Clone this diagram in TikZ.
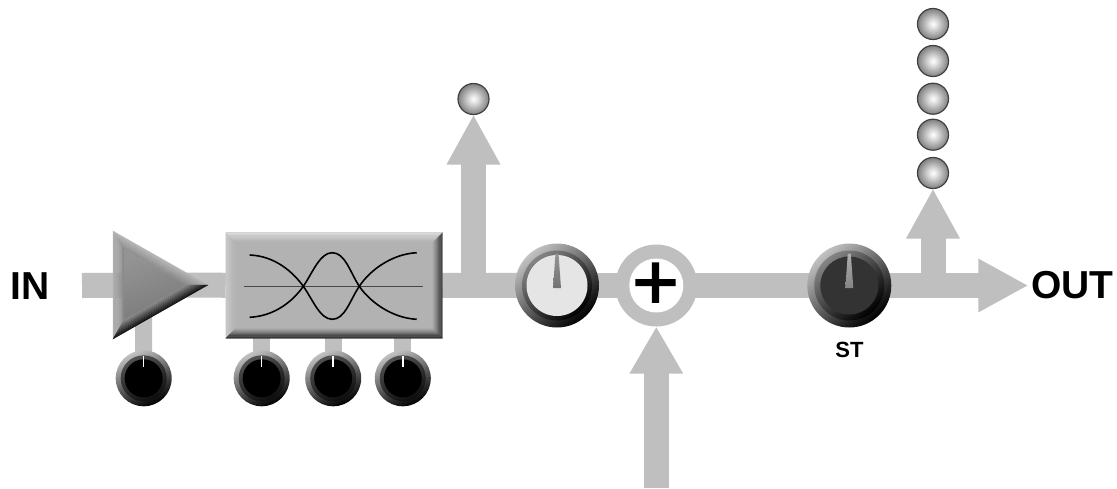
\documentclass[tikz,border=0pt]{standalone}
\usepackage{fontspec}
\setmainfont{Liberation Sans}
\newfontfamily\plusfont[FakeBold=1.6]{Liberation Sans}
\usetikzlibrary{arrows.meta,calc,backgrounds}
\definecolor{sig}{HTML}{BFBFBF}
\tikzset{
  x=1pt,y=-1pt,
  sigline/.style={draw=sig,line width=25pt},
  stemline/.style={draw=sig,line width=17pt},
  sigarrow/.style={sigline,-{Triangle[width=50pt,length=#1]}},
  round node/.style={circle,inner sep=0pt,outer sep=0pt},
  bigouter/.style={round node,top color=black!24,middle color=black!84,bottom color=black,shading=axis,shading angle=40},
  bigring/.style={round node,top color=black!48,middle color=black!84,bottom color=black,shading=axis,shading angle=40},
  smallouter/.style={round node,top color=black!24,middle color=black!62,bottom color=black!100,shading=axis,shading angle=25},
  smallring/.style={round node,top color=black!68,middle color=black!82,bottom color=black!95,shading=axis,shading angle=25},
  knobdisc/.style={round node,fill=#1},
  led/.style={round node,minimum size=31pt,draw=black!75,line width=1.2pt,shading=ledball},
  lab/.style={inner sep=0pt,outer sep=0pt,font=\bfseries\fontsize{39}{39}\selectfont},
}
\pgfdeclareradialshading{ledball}{\pgfpoint{0bp}{0bp}}{color(0bp)=(white); color(7bp)=(black!13); color(25bp)=(black!50); color(100bp)=(black!50)}
% name x y outer ring disc discColour outerStyle ringStyle
\newcommand{\knobat}[9]{%
  \node[#8,minimum size=#4pt] (#1) at (#2,#3) {};
  \node[#9,minimum size=#5pt] (#1-ring) at (#1.center) {};
  \node[knobdisc=#7,minimum size=#6pt] (#1-disc) at (#1.center) {};
}
% bevel strip between edge A-B and inset edge Ai-Bi; #5,#6 = black percent outer, inner
\newcommand{\bevel}[6]{%
  \foreach \i in {0,...,11}{
    \pgfmathsetmacro{\ta}{\i/12}
    \pgfmathsetmacro{\tb}{(\i+1)/12}
    \pgfmathsetmacro{\mixp}{#5+(#6-#5)*(\i+0.5)/12}
    \path[fill=black!\mixp,draw=black!\mixp,line width=0.2pt]
      ($(#1)!\ta!(#3)$) -- ($(#2)!\ta!(#4)$) -- ($(#2)!\tb!(#4)$) -- ($(#1)!\tb!(#3)$) -- cycle;
  }
}
\newcommand{\needle}[3]{\shade[top color=#2,bottom color=#3]
  ($(#1.center)+(-1.5,-32)$) -- ($(#1.center)+(1.5,-32)$) -- ($(#1.center)+(4,2.7)$) -- ($(#1.center)+(-4,2.7)$) -- cycle;}
\newcommand{\tick}[1]{\draw[white,line width=1.5pt] ($(#1.center)+(0,-22.5)$) -- ($(#1.center)+(0,-11)$);}
\begin{document}
\begin{tikzpicture}
\useasboundingbox (0,0) rectangle (1117,488);

% --- amplifier triangle
\coordinate (ampA) at (113,231);
\coordinate (ampB) at (113,339);
\coordinate (ampC) at (208,285);
\coordinate (ampAi) at (124,249.9);
\coordinate (ampBi) at (124,320.1);
\coordinate (ampCi) at (185.8,285);
\coordinate (amp) at (143.5,300);
\bevel{ampA}{ampB}{ampAi}{ampBi}{30}{46}
\bevel{ampA}{ampC}{ampAi}{ampCi}{28}{46}
\bevel{ampB}{ampC}{ampBi}{ampCi}{96}{46}
\shade[top color=black!42,bottom color=black!52,shading angle=20] (ampAi) -- (ampCi) -- (ampBi) -- cycle;

% --- equaliser box
\node[rectangle,inner sep=0pt,outer sep=0pt,fill=black!30,minimum width=216.5pt,minimum height=106pt] (eq) at (334,285.3) {};
\coordinate (eqNW) at (eq.north west); \coordinate (eqNE) at (eq.north east);
\coordinate (eqSW) at (eq.south west); \coordinate (eqSE) at (eq.south east);
\coordinate (eqNWi) at ($(eq.north west)+(10,10)$); \coordinate (eqNEi) at ($(eq.north east)+(-10,10)$);
\coordinate (eqSWi) at ($(eq.south west)+(10,-10)$); \coordinate (eqSEi) at ($(eq.south east)+(-10,-10)$);
\bevel{eqNW}{eqSW}{eqNWi}{eqSWi}{20}{30}
\bevel{eqNE}{eqSE}{eqNEi}{eqSEi}{80}{30}
\bevel{eqNW}{eqNE}{eqNWi}{eqNEi}{12}{30}
\bevel{eqSW}{eqSE}{eqSWi}{eqSEi}{88}{30}
\draw[black!72,line width=0.8pt] (243.7,286.3) -- (422.7,286.3);
\draw[black,line width=1.6pt] (249.7,255) .. controls (275,256) and (293,272) .. (303.3,286.3)
  .. controls (313,300) and (320,319.3) .. (332.3,319.3)
  .. controls (345,319.3) and (350,300) .. (359.3,286.3)
  .. controls (370,270) and (392,254) .. (416.7,252.7);
\draw[black,line width=1.6pt] (249.7,317.3) .. controls (275,316) and (293,301) .. (303.3,286.3)
  .. controls (313,272) and (320,252.7) .. (332.3,252.7)
  .. controls (345,252.7) and (350,272) .. (359.3,286.3)
  .. controls (370,302) and (392,318) .. (416.7,319.3);

% --- small knobs
\knobat{ka}{143.7}{378.3}{56}{46}{38}{black}{smallouter}{smallring}
\knobat{kb}{261.7}{378.3}{56}{46}{38}{black}{smallouter}{smallring}
\knobat{kc}{333.2}{378.3}{56}{46}{38}{black}{smallouter}{smallring}
\knobat{kd}{402.8}{378.3}{56}{46}{38}{black}{smallouter}{smallring}
\tick{ka}\tick{kb}\tick{kc}\tick{kd}

% --- big knobs
\knobat{kl}{557}{285.5}{84}{70}{61}{black!10}{bigouter}{bigring}
\needle{kl}{black!42}{black!55}
\knobat{kr}{849.3}{285.5}{84}{70}{58}{black!80}{bigouter}{bigring}
\needle{kr}{black!32}{black!48}

% --- summing junction
\node[round node,fill=sig,minimum size=82pt] (sum) at (656.3,285.5) {};
\node[round node,fill=white,minimum size=54pt] (sumhole) at (sum.center) {};
\node[inner sep=0pt,font=\plusfont\fontsize{80}{80}\selectfont] (plus) at ($(sum.center)+(-0.8,0.6)$) {+};

% --- LEDs
\node[led] (ledA) at (473.5,99) {};
\node[led] (ledB) at (933,173) {};
\node[led] (ledC) at (933,134.7) {};
\node[led] (ledD) at (933,98.7) {};
\node[led] (ledE) at (933,61) {};
\node[led] (ledF) at (933,24) {};

% --- labels
\node[lab] (in) at (30,286) {IN};
\node[lab,outer sep=3pt] (out) at (1072.5,285.5) {OUT};
\node[inner sep=0pt,font=\bfseries\fontsize{22}{22}\selectfont] (st) at (849.5,349.5) {ST};

% --- free ends of connectors
\coordinate (instart) at (82,285.5);
\coordinate (tapA) at (473.5,285.5);
\coordinate (tapB) at (933,285.5);
\coordinate (sumin) at (656.3,488);

\begin{pgfonlayer}{background}
  \draw[sigline,line cap=butt] (instart) -- (ampC);
  \draw[sigline] (ampC) -- (eq.west);
  \draw[sigline] (eq.east) -- (kl.center);
  \draw[sigline] (kl.center) -- (sum.center);
  \draw[sigline] (sum.center) -- (kr.center);
  \draw[sigarrow=50pt] (kr.center) -- (out);
  \draw[sigarrow=50pt] (tapA) -- (ledA);
  \draw[sigarrow=50pt] (tapB) -- (ledB);
  \draw[sigarrow=47pt] (sumin) -- (sum);
  \draw[stemline] (amp) -- (ka.center);
  \draw[stemline] (kb.center) -- (kb.center |- eq.south);
  \draw[stemline] (kc.center) -- (kc.center |- eq.south);
  \draw[stemline] (kd.center) -- (kd.center |- eq.south);
\end{pgfonlayer}
\end{tikzpicture}
\end{document}
